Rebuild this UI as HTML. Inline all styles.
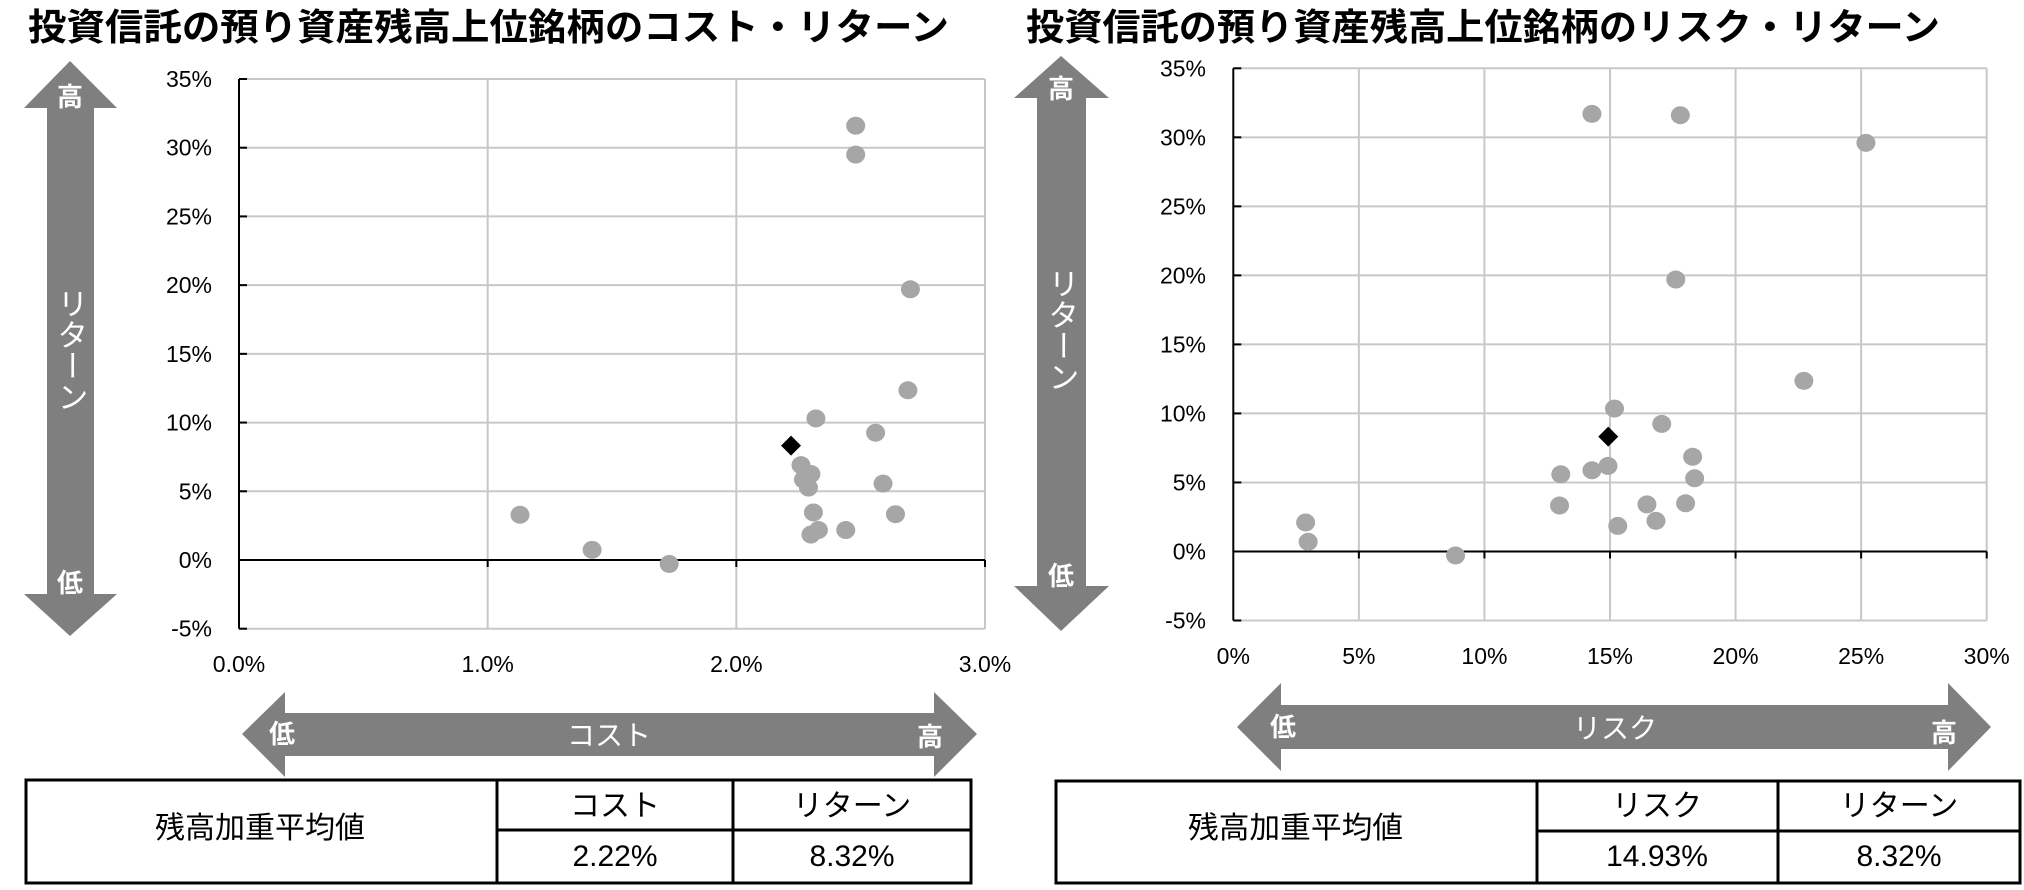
<!DOCTYPE html>
<html><head><meta charset="utf-8">
<style>
html,body{margin:0;padding:0;background:#fff;}
svg{display:block;font-family:"Liberation Sans","Noto Sans CJK JP",sans-serif;}
</style></head>
<body>
<svg id="root" width="2024" height="890" viewBox="0 0 2024 890" xmlns="http://www.w3.org/2000/svg">
  <text x="28" y="40" font-size="37" font-weight="bold" textLength="921" lengthAdjust="spacingAndGlyphs">投資信託の預り資産残高上位銘柄のコスト・リターン</text>
  <text x="1026" y="40" font-size="37" font-weight="bold" textLength="914" lengthAdjust="spacingAndGlyphs">投資信託の預り資産残高上位銘柄のリスク・リターン</text>

  <g>
    <polygon points="70,61 117,108 94,108 94,594 117,594 70,636 24,594 47,594 47,108 24,108" fill="#7f7f7f"/>
    <text x="70" y="106" font-size="26" font-weight="bold" fill="#fff" text-anchor="middle">高</text>
    <text x="70" y="592" font-size="26" font-weight="bold" fill="#fff" text-anchor="middle">低</text>
    <text x="70" y="350" font-size="31" fill="#fff" text-anchor="middle" writing-mode="tb" glyph-orientation-vertical="0">リターン</text>
  </g>
  <g>
    <polygon points="1061,56 1109,98 1086,98 1086,586 1109,586 1061,631 1014,586 1037,586 1037,98 1014,98" fill="#7f7f7f"/>
    <text x="1061" y="98" font-size="26" font-weight="bold" fill="#fff" text-anchor="middle">高</text>
    <text x="1061" y="585" font-size="26" font-weight="bold" fill="#fff" text-anchor="middle">低</text>
    <text x="1061" y="330" font-size="31" fill="#fff" text-anchor="middle" writing-mode="tb" glyph-orientation-vertical="0">リターン</text>
  </g>

  <g>
    <polygon points="242,734 285,692 285,713 934,713 934,692 977,734 934,777 934,756 285,756 285,777" fill="#7f7f7f"/>
    <text x="282" y="743" font-size="26" font-weight="bold" fill="#fff" text-anchor="middle">低</text>
    <text x="930" y="746" font-size="26" font-weight="bold" fill="#fff" text-anchor="middle">高</text>
    <text x="609" y="745" font-size="28" fill="#fff" text-anchor="middle">コスト</text>
  </g>
  <g>
    <polygon points="1237,727 1281,683 1281,705 1948,705 1948,683 1991,727 1948,771 1948,749 1281,749 1281,771" fill="#7f7f7f"/>
    <text x="1283" y="736" font-size="26" font-weight="bold" fill="#fff" text-anchor="middle">低</text>
    <text x="1944" y="742" font-size="26" font-weight="bold" fill="#fff" text-anchor="middle">高</text>
    <text x="1615" y="738" font-size="28" fill="#fff" text-anchor="middle">リスク</text>
  </g>

  <g stroke="#000" stroke-width="3" fill="none">
    <rect x="26" y="780" width="945" height="103"/>
    <line x1="497" y1="780" x2="497" y2="883"/>
    <line x1="733" y1="780" x2="733" y2="883"/>
    <line x1="497" y1="830" x2="971" y2="830"/>
  </g>
  <text x="155" y="838" font-size="30" textLength="210" lengthAdjust="spacingAndGlyphs">残高加重平均値</text>
  <text x="615" y="816" font-size="30" text-anchor="middle">コスト</text>
  <text x="852" y="816" font-size="30" text-anchor="middle">リターン</text>
  <text x="615" y="866" font-size="30" text-anchor="middle">2.22%</text>
  <text x="852" y="866" font-size="30" text-anchor="middle">8.32%</text>

  <g stroke="#000" stroke-width="3" fill="none">
    <rect x="1056" y="781" width="964" height="102"/>
    <line x1="1537" y1="781" x2="1537" y2="883"/>
    <line x1="1778" y1="781" x2="1778" y2="883"/>
    <line x1="1537" y1="831" x2="2020" y2="831"/>
  </g>
  <text x="1188" y="838" font-size="30" textLength="215" lengthAdjust="spacingAndGlyphs">残高加重平均値</text>
  <text x="1657" y="816" font-size="30" text-anchor="middle">リスク</text>
  <text x="1899" y="816" font-size="30" text-anchor="middle">リターン</text>
  <text x="1657" y="866" font-size="30" text-anchor="middle">14.93%</text>
  <text x="1899" y="866" font-size="30" text-anchor="middle">8.32%</text>

  <g id="chartL"></g>
  <g id="chartR"></g>
</svg>
<script>
const yTicks = [-5, 0, 5, 10, 15, 20, 25, 30, 35];
const costTicks = [0, 1, 2, 3];
const costTickLabels = ["0.0%", "1.0%", "2.0%", "3.0%"];
const riskTicks = [0, 5, 10, 15, 20, 25, 30];
const riskTickLabels = ["0%", "5%", "10%", "15%", "20%", "25%", "30%"];
const costValues = [2.48, 2.48, 2.70, 2.69, 2.32, 2.56, 2.26, 2.30, 2.27, 2.29, 2.59, 2.31, 2.64, 2.44, 2.33, 2.30, 1.13, 1.42, 1.73];
const costReturns = [31.6, 29.5, 19.7, 12.35, 10.3, 9.26, 6.9, 6.26, 5.85, 5.27, 5.56, 3.46, 3.33, 2.18, 2.18, 1.85, 3.29, 0.74, -0.29];
const riskValues = [14.28, 17.80, 25.19, 17.62, 22.72, 15.18, 17.06, 18.29, 13.04, 14.28, 14.92, 18.37, 12.99, 16.47, 18.01, 16.83, 15.31, 2.88, 2.98, 8.85];
const riskReturns = [31.7, 31.6, 29.6, 19.7, 12.36, 10.35, 9.24, 6.86, 5.59, 5.88, 6.2, 5.3, 3.33, 3.41, 3.49, 2.22, 1.85, 2.1, 0.70, -0.29];
const avgCost = [2.22];
const avgRisk = [14.93];
const avgReturn = [8.32];

const NS = "http://www.w3.org/2000/svg";
function mk(parent, tag, attrs) {
  const el = document.createElementNS(NS, tag);
  for (const k in attrs) el.setAttribute(k, attrs[k]);
  parent.appendChild(el);
  return el;
}

function drawChart(g, cfg) {
  const sx = v => cfg.x0 + (v - cfg.xmin) / (cfg.xmax - cfg.xmin) * (cfg.x1 - cfg.x0);
  const sy = v => cfg.yB + (v - (-5)) / (35 - (-5)) * (cfg.yT - cfg.yB);
  yTicks.forEach(t => {
    const ln = mk(g, "line", {x1: cfg.x0, x2: cfg.x1, y1: sy(t), y2: sy(t), stroke: "#c8c8c8", "stroke-width": 2});
    
    
    const tk = mk(g, "line", {x1: cfg.x0, x2: cfg.x0 + 8, y1: sy(t), y2: sy(t), stroke: "#000", "stroke-width": 2});
    
    
    const lb = mk(g, "text", {x: cfg.labelX, y: sy(t) + 8, "font-size": 23, "text-anchor": "end", fill: "#000"});
    lb.textContent = t + "%";
    
    
  });
  cfg.xticks.forEach((t, i) => {
    if (i > 0) {
      const ln = mk(g, "line", {x1: sx(t), x2: sx(t), y1: cfg.yT, y2: cfg.yB, stroke: "#c8c8c8", "stroke-width": 2});
      
      
      const tk = mk(g, "line", {x1: sx(t), x2: sx(t), y1: sy(0), y2: sy(0) + 7, stroke: "#000", "stroke-width": 2});
      
      
    }
    const lb = mk(g, "text", {x: sx(t), y: cfg.xLabelY, "font-size": 23, "text-anchor": "middle", fill: "#000"});
    lb.textContent = cfg.xlabels[i];
    
    
  });
  const ya = mk(g, "line", {x1: cfg.x0, x2: cfg.x0, y1: cfg.yT, y2: cfg.yB, stroke: "#000", "stroke-width": 2});
  
  
  const xa = mk(g, "line", {x1: cfg.x0, x2: cfg.x1, y1: sy(0), y2: sy(0), stroke: "#000", "stroke-width": 2});
  
  
  cfg.xs.forEach((v, i) => {
    const c = mk(g, "ellipse", {cx: sx(v), cy: sy(cfg.ys[i]), rx: 9.5, ry: 9, fill: "#a6a6a6"});
    
    
  });
  const dx = sx(cfg.avgX[0]), dy = sy(avgReturn[0]);
  const d = mk(g, "polygon", {points: `${dx},${dy-10} ${dx+10},${dy} ${dx},${dy+10} ${dx-10},${dy}`, fill: "#000"});
  
  
}

drawChart(document.getElementById("chartL"), {
  x0: 239, x1: 985, yT: 79, yB: 628.7, xmin: 0, xmax: 3,
  xticks: costTicks, xlabels: costTickLabels, labelX: 212, xLabelY: 672,
  xs: costValues, ys: costReturns, avgX: avgCost
});
drawChart(document.getElementById("chartR"), {
  x0: 1233.3, x1: 1986.7, yT: 68.3, yB: 620.5, xmin: 0, xmax: 30,
  xticks: riskTicks, xlabels: riskTickLabels, labelX: 1206, xLabelY: 664,
  xs: riskValues, ys: riskReturns, avgX: avgRisk
});
</script>
</body></html>
